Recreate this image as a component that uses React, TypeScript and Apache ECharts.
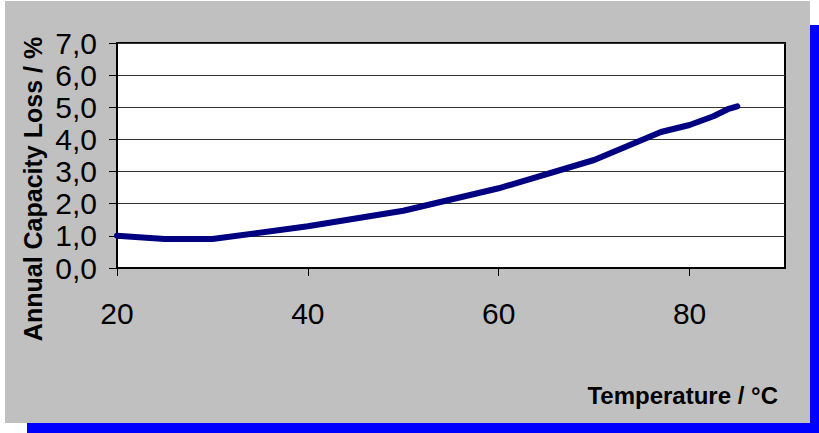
import React, { useEffect, useRef } from "react";
import * as echarts from "echarts";

const temperatures = [20, 25, 30, 40, 50, 60, 70, 77, 80, 82.5, 84, 85];
const capacityLoss = [1.0, 0.9, 0.9, 1.3, 1.78, 2.48, 3.36, 4.23, 4.45, 4.72, 4.94, 5.03];
const xTicks = [20, 40, 60, 80];
const yMax = 7;

const NARROW = "'Liberation Sans Narrow', 'Arial Narrow', 'Liberation Sans', Arial, sans-serif";
const BOLD = "'Liberation Sans', Arial, sans-serif";

export default function App() {
  const ref = useRef<HTMLDivElement>(null);
  useEffect(() => {
    document.body.style.margin = "0";
    if (!ref.current) return;
    const chart = echarts.init(ref.current, undefined, { renderer: "svg" });
    const data = temperatures.map((t, i) => [t, capacityLoss[i]]);
    chart.setOption({
      animation: false,
      backgroundColor: "#ffffff",
      graphic: [
        { type: "rect", z: -100, shape: { x: 27, y: 25, width: 805, height: 422 }, style: { fill: "#0000ff" } },
        { type: "rect", z: -99, shape: { x: 5, y: 1, width: 805, height: 422 }, style: { fill: "#c0c0c0" } },
        {
          type: "text",
          x: 33,
          y: 189,
          rotation: Math.PI / 2,
          style: {
            text: "Annual Capacity Loss / %",
            font: `bold 25px ${BOLD}`,
            fill: "#000",
            align: "center",
            verticalAlign: "middle",
          },
        },
        {
          type: "text",
          x: 778,
          y: 395,
          style: {
            text: "Temperature / °C",
            font: `bold 24px ${BOLD}`,
            fill: "#000",
            align: "right",
            verticalAlign: "middle",
          },
        },
      ],
      grid: {
        left: 117,
        top: 43,
        right: 34,
        bottom: 165,
        show: true,
        backgroundColor: "#ffffff",
        borderColor: "#000",
        borderWidth: 2,
      },
      xAxis: {
        type: "value",
        min: 20,
        max: 90,
        interval: 20,
        axisLine: { show: true, lineStyle: { color: "#000", width: 2 } },
        axisTick: { show: true, length: 8, lineStyle: { color: "#000", width: 1 } },
        splitLine: { show: false },
        axisLabel: {
          margin: 30,
          showMaxLabel: false,
          fontFamily: NARROW,
          fontSize: 30,
          color: "#000",
          formatter: (v: number) => (xTicks.includes(v) ? String(v) : ""),
        },
      },
      yAxis: {
        type: "value",
        min: 0,
        max: yMax,
        interval: 1,
        axisLine: { show: true, lineStyle: { color: "#000", width: 2 } },
        axisTick: { show: true, length: 8, lineStyle: { color: "#000", width: 1 } },
        splitLine: { show: true, lineStyle: { color: "#333", width: 1 } },
        axisLabel: {
          margin: 20,
          fontFamily: NARROW,
          fontSize: 30,
          color: "#000",
          formatter: (v: number) => v.toFixed(1).replace(".", ","),
        },
      },
      series: [
        {
          type: "line",
          data,
          showSymbol: false,
          symbol: "none",
          lineStyle: { color: "#000080", width: 6, cap: "round", join: "round" },
        },
      ],
    });
    return () => chart.dispose();
  }, []);
  return <div ref={ref} style={{ width: 819, height: 433 }} />;
}
